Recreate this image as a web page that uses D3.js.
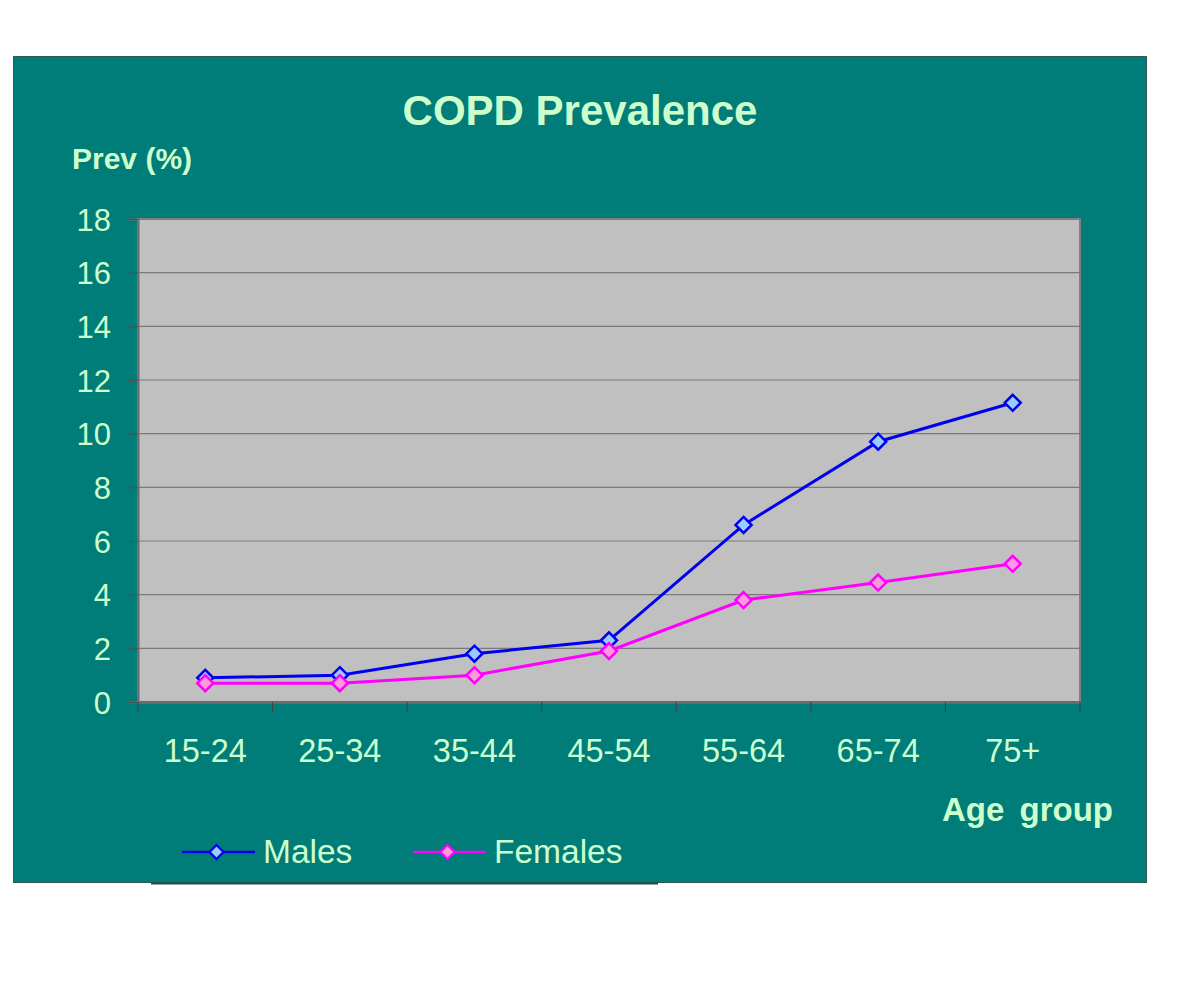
<!DOCTYPE html>
<html><head><meta charset="utf-8">
<script src="https://cdn.jsdelivr.net/npm/d3@7"></script>
<style>body{margin:0;background:#fff}svg{display:block}</style>
</head><body>
<script>
const categories = ["15-24","25-34","35-44","45-54","55-64","65-74","75+"];
const males = [0.9, 1.0, 1.8, 2.3, 6.6, 9.7, 11.15];
const females = [0.7, 0.7, 1.0, 1.9, 3.8, 4.45, 5.15];
const yTicks = [0,2,4,6,8,10,12,14,16,18];
const seriesNames = ["Males","Females"];

const W = 1200, H = 999;
const svg = d3.select("body").append("svg").attr("width", W).attr("height", H);
const txt = "#CCFFCC";
const font = "'Liberation Sans', Arial, sans-serif";

// background panel
svg.append("rect").attr("x",13.5).attr("y",56.5).attr("width",1133).attr("height",826)
  .attr("fill","#007C79").attr("stroke","#2f5755").attr("stroke-width",1);

const pl = 138, pr = 1080, pt = 219, pb = 702;
const x = d3.scaleBand().domain(categories).range([pl, pr]);
const y = d3.scaleLinear().domain([0,18]).range([pb, pt]);

svg.append("rect").attr("x",pl).attr("y",pt).attr("width",pr-pl).attr("height",pb-pt)
  .attr("fill","#C0C0C0").attr("stroke","#808080").attr("stroke-width",2);

// gridlines
svg.append("g").selectAll("line").data(yTicks.filter(d=>d>0 && d<18)).join("line")
  .attr("x1",pl).attr("x2",pr).attr("y1",d=>y(d)).attr("y2",d=>y(d))
  .attr("stroke","#7a7a7a").attr("stroke-width",1.2);

// y axis
const yAxis = svg.append("g").attr("transform",`translate(${pl},0)`)
  .call(d3.axisLeft(y).tickValues(yTicks).tickSize(10).tickPadding(17));
yAxis.select(".domain").attr("stroke","#6a6a6a").attr("stroke-width",2);
yAxis.selectAll(".tick line").attr("stroke","#505050").attr("stroke-width",1);
yAxis.selectAll("text").attr("fill",txt).attr("font-family",font).attr("font-size",31)
  .attr("dy","0.36em");

// x axis
const xAxis = svg.append("g").attr("transform",`translate(0,${pb})`)
  .call(d3.axisBottom(x).tickSize(0).tickPadding(37));
xAxis.select(".domain").attr("stroke","#6a6a6a").attr("stroke-width",3);
xAxis.selectAll("text").attr("fill",txt).attr("font-family",font).attr("font-size",32.5);
// boundary ticks
const bounds = categories.map(c=>x(c)).concat([pr]);
svg.append("g").selectAll("line").data(bounds).join("line")
  .attr("x1",d=>d).attr("x2",d=>d).attr("y1",pb).attr("y2",pb+10)
  .attr("stroke","#404040").attr("stroke-width",1);

// series
const styles = [
  {line:"#0000EE", fill:"#99CCFF"},
  {line:"#FF00FF", fill:"#FF99DD"}
];
const data = [males, females];
const diamondPath = (cx,cy,r)=>`M${cx},${cy-r}L${cx+r},${cy}L${cx},${cy+r}L${cx-r},${cy}Z`;
const line = d3.line().x((d,i)=>x(categories[i])+x.bandwidth()/2).y(d=>y(d));
data.forEach((vals,si)=>{
  const g = svg.append("g");
  g.append("path").attr("d",line(vals)).attr("fill","none")
    .attr("stroke",styles[si].line).attr("stroke-width",3);
  g.selectAll("path.m").data(vals).join("path").attr("class","m")
    .attr("d",(d,i)=>diamondPath(x(categories[i])+x.bandwidth()/2, y(d), 8))
    .attr("fill",styles[si].fill).attr("stroke",styles[si].line).attr("stroke-width",2.5);
});

// title & labels
svg.append("text").attr("x",580).attr("y",125).attr("text-anchor","middle")
  .attr("font-family",font).attr("font-weight","bold").attr("font-size",42)
  .attr("fill",txt).text("COPD Prevalence");
svg.append("text").attr("x",72).attr("y",169)
  .attr("font-family",font).attr("font-weight","bold").attr("font-size",30)
  .attr("fill",txt).text("Prev (%)");
svg.append("text").attr("x",1113).attr("y",821).attr("text-anchor","end")
  .attr("font-family",font).attr("font-weight","bold").attr("font-size",33)
  .attr("word-spacing",6).attr("fill",txt).text("Age group");

// legend
svg.append("line").attr("x1",151).attr("x2",658).attr("y1",883.5).attr("y2",883.5)
  .attr("stroke","#1d4d4b").attr("stroke-width",2);
const legX = [182, 413];
seriesNames.forEach((n,i)=>{
  const lx = legX[i], ly = 852;
  svg.append("line").attr("x1",lx).attr("x2",lx+73).attr("y1",ly).attr("y2",ly)
    .attr("stroke",styles[i].line).attr("stroke-width",2.5);
  svg.append("path").attr("d",diamondPath(lx+34.5,ly,7))
    .attr("fill",styles[i].fill).attr("stroke",styles[i].line).attr("stroke-width",2.2);
  svg.append("text").attr("x",lx+81).attr("y",ly+11)
    .attr("font-family",font).attr("font-size",33.5).attr("fill",txt).text(n);
});
</script>
</body></html>
